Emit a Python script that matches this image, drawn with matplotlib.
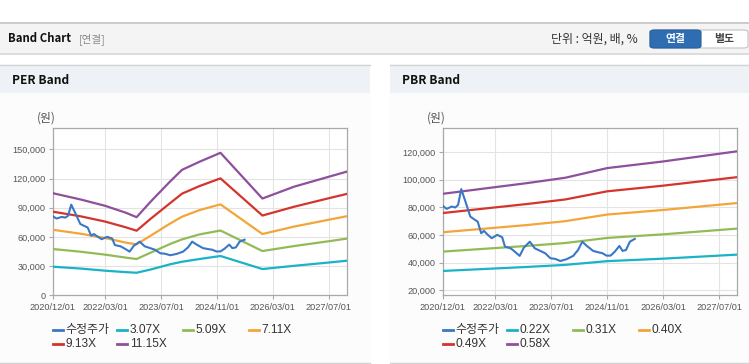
import matplotlib
matplotlib.use("Agg")
import matplotlib.pyplot as plt
from matplotlib.patches import Rectangle, FancyBboxPatch
from matplotlib.lines import Line2D

plt.rcParams['font.family'] = ['Liberation Sans', 'Noto Sans CJK KR']

W, H = 749, 364

# x axis: months since 2020/12/01
tick_months = [0, 15, 31, 47, 63, 79]
tick_labels = ['2020/12/01', '2022/03/01', '2023/07/01', '2024/11/01', '2026/03/01', '2027/07/01']

# adjusted price (수정주가), thousands of won
price_x = [0, 1.1, 2.6, 3.6, 4.4, 5.3, 6.5, 7.9, 9.2, 10.0, 11.0, 11.8, 12.7, 14.0, 15.6,
           17.0, 17.8, 19.4, 20.6, 22.0, 23.2, 24.9, 26.3, 27.9, 29.3, 30.8, 32.2, 33.6,
           35.4, 37.3, 38.7, 39.9, 41.1, 43.0, 44.5, 45.7, 46.8, 48.0, 49.2, 50.5, 51.4,
           52.4, 53.5, 54.9]
price_y = [81.3, 78.9, 80.6, 79.9, 81.8, 93.2, 84.2, 73.3, 71.0, 69.7, 61.3, 63.0, 60.6,
           57.7, 60.1, 58.4, 51.6, 50.4, 48.0, 44.9, 50.9, 55.2, 50.4, 48.5, 46.8, 43.2,
           42.7, 41.2, 42.5, 44.9, 49.2, 55.2, 52.3, 48.5, 47.5, 46.8, 45.1, 45.1, 48.0,
           52.1, 48.5, 49.2, 55.2, 57.2]

# PER bands
per_x = [0, 8, 15, 21, 24, 28, 33.5, 37, 42, 48, 60, 69, 79, 84]
per_307 = [29.4, 27.5, 25.3, 23.8, 23.2, 26.5, 31.8, 34.5, 37.3, 40.4, 27.0, 30.3, 33.7, 35.5]
per_509 = [47.6, 44.8, 41.8, 38.7, 37.3, 43.8, 52.6, 57.5, 62.6, 66.6, 45.5, 50.6, 55.6, 58.2]
per_711 = [67.4, 63.3, 58.9, 54.1, 52.4, 61.2, 73.6, 80.8, 87.6, 93.5, 63.0, 70.6, 77.7, 81.2]
per_913 = [86.0, 81.2, 75.8, 69.8, 66.4, 78.6, 94.5, 104.5, 112.3, 120.2, 82.0, 91.0, 99.8, 104.1]
per_1115 = [105.0, 98.5, 92.0, 84.8, 80.3, 96.2, 116.7, 129.0, 137.3, 146.5, 99.5, 111.6, 121.9, 127.0]
per_labels = ['수정주가', '3.07X', '5.09X', '7.11X', '9.13X', '11.15X']

# PBR bands
pbr_x = [0, 24, 35, 47, 63, 84]
pbr_022 = [34.0, 36.9, 38.4, 41.1, 42.9, 45.8]
pbr_031 = [48.0, 52.1, 54.2, 57.9, 60.5, 64.6]
pbr_040 = [62.0, 67.2, 70.0, 74.8, 78.1, 83.1]
pbr_049 = [75.9, 82.4, 85.7, 91.6, 95.7, 101.8]
pbr_058 = [89.8, 97.5, 101.4, 108.4, 113.2, 120.5]
pbr_labels = ['수정주가', '0.22X', '0.31X', '0.40X', '0.49X', '0.58X']

colors = ['#3a78c6', '#1ab3c6', '#92bb55', '#f3a53a', '#d3352d', '#8e4f9c']


def fx(x):
    return x / W


def fy(y):
    return 1 - y / H


fig = plt.figure(figsize=(W / 100, H / 100), dpi=100)
fig.patch.set_facecolor('white')

# top header bar
fig.add_artist(Rectangle((0, fy(53)), 1, fy(22) - fy(53), transform=fig.transFigure,
                         fc='#f4f4f4', ec='none', zorder=0))
fig.add_artist(Line2D([0, 1], [fy(22.5)] * 2, transform=fig.transFigure, color='#c4c4c4', lw=1.2))
fig.add_artist(Line2D([0, 1], [fy(53.5)] * 2, transform=fig.transFigure, color='#d6d6d6', lw=1.2))
fig.text(fx(8), fy(39), 'Band Chart', family=['Noto Sans CJK KR'], weight='bold', size=8.2,
         color='#111111', va='center')
fig.text(fx(79), fy(39), '[연결]', family=['Noto Sans CJK KR'], size=7.6, color='#8a8a8a', va='center')
fig.text(fx(551), fy(39), '단위 : 억원, 배, %', family=['Noto Sans CJK KR'], size=8.6,
         color='#333333', va='center')
fig.add_artist(FancyBboxPatch((fx(650), fy(48)), fx(98), fy(30) - fy(48),
                              boxstyle='round,pad=0,rounding_size=0.006', transform=fig.transFigure,
                              fc='white', ec='#c2c2c2', lw=0.8))
fig.add_artist(FancyBboxPatch((fx(650), fy(48)), fx(51), fy(30) - fy(48),
                              boxstyle='round,pad=0,rounding_size=0.006', transform=fig.transFigure,
                              fc='#2f6db3', ec='#285f9e', lw=0.8))
fig.text(fx(675.5), fy(39), '연결', family=['Noto Sans CJK KR'], weight='bold', size=7.8,
         color='white', ha='center', va='center')
fig.text(fx(724.5), fy(39), '별도', family=['Noto Sans CJK KR'], weight='bold', size=7.8,
         color='#444444', ha='center', va='center')


def panel(x0, x1, title):
    fig.add_artist(Rectangle((fx(x0), fy(363)), fx(x1 - x0), fy(64) - fy(363),
                             transform=fig.transFigure, fc='#fcfcfc', ec='none', zorder=0))
    fig.add_artist(Rectangle((fx(x0), fy(93)), fx(x1 - x0), fy(65) - fy(93),
                             transform=fig.transFigure, fc='#eef2f7', ec='none', zorder=0))
    fig.add_artist(Line2D([fx(x0), fx(x1)], [fy(64.5)] * 2, transform=fig.transFigure,
                          color='#d3d3d3', lw=1))
    fig.add_artist(Line2D([fx(x0), fx(x1)], [fy(362.5)] * 2, transform=fig.transFigure,
                          color='#d3d3d3', lw=1))
    fig.text(fx(x0 + 11.5), fy(80), title, family=['Noto Sans CJK KR'], weight='bold', size=8.6,
             color='#111111', va='center')


panel(0, 370, 'PER Band')
panel(390, 749, 'PBR Band')


def band_axes(left, right, ylim, yticks, bx, bands, labels):
    ax = fig.add_axes([fx(left), fy(295.3), fx(right - left), fy(128) - fy(295.3)])
    ax.set_facecolor('white')
    ax.plot(price_x, [v * 1000 for v in price_y], color=colors[0], lw=1.5, zorder=5)
    for i, b in enumerate(bands):
        ax.plot(bx, [v * 1000 for v in b], color=colors[i + 1], lw=1.6, zorder=3)
    ax.set_xlim(0, 84.2)
    ax.set_ylim(*ylim)
    ax.set_xticks(tick_months)
    ax.set_xticklabels(tick_labels)
    ax.set_yticks(yticks)
    ax.set_yticklabels([f'{v:,}' for v in yticks])
    ax.grid(True, color='#e3e3e3', lw=0.8)
    ax.set_axisbelow(True)
    for s in ax.spines.values():
        s.set_color('#a9a9a9')
        s.set_linewidth(0.9)
    ax.tick_params(axis='both', colors='#a9a9a9', length=3, width=0.8, labelsize=6.6,
                   labelcolor='#555555')
    ax.tick_params(axis='x', pad=2.5)
    ax.tick_params(axis='y', pad=2)
    fig.text(fx(left - 16), fy(118), '(원)', family=['Noto Sans CJK KR'], size=8.5,
             color='#555555', va='center')
    # legend
    cols = [0, 64, 130, 196]
    rows = [330, 344]
    for i, lab in enumerate(labels):
        x0 = left + cols[i % 4]
        y0 = rows[i // 4]
        fig.add_artist(Line2D([fx(x0), fx(x0 + 10)], [fy(y0)] * 2, transform=fig.transFigure,
                              color=colors[i], lw=2))
        fig.text(fx(x0 + 13), fy(y0), lab, size=8.6, color='#333333', va='center')
    return ax


band_axes(52.7, 347, (0, 172000), [0, 30000, 60000, 90000, 120000, 150000],
          per_x, [per_307, per_509, per_711, per_913, per_1115], per_labels)
band_axes(442.7, 737.3, (16400, 137400), [20000, 40000, 60000, 80000, 100000, 120000],
          pbr_x, [pbr_022, pbr_031, pbr_040, pbr_049, pbr_058], pbr_labels)

fig.savefig('out.png', dpi=100, facecolor=fig.get_facecolor())
